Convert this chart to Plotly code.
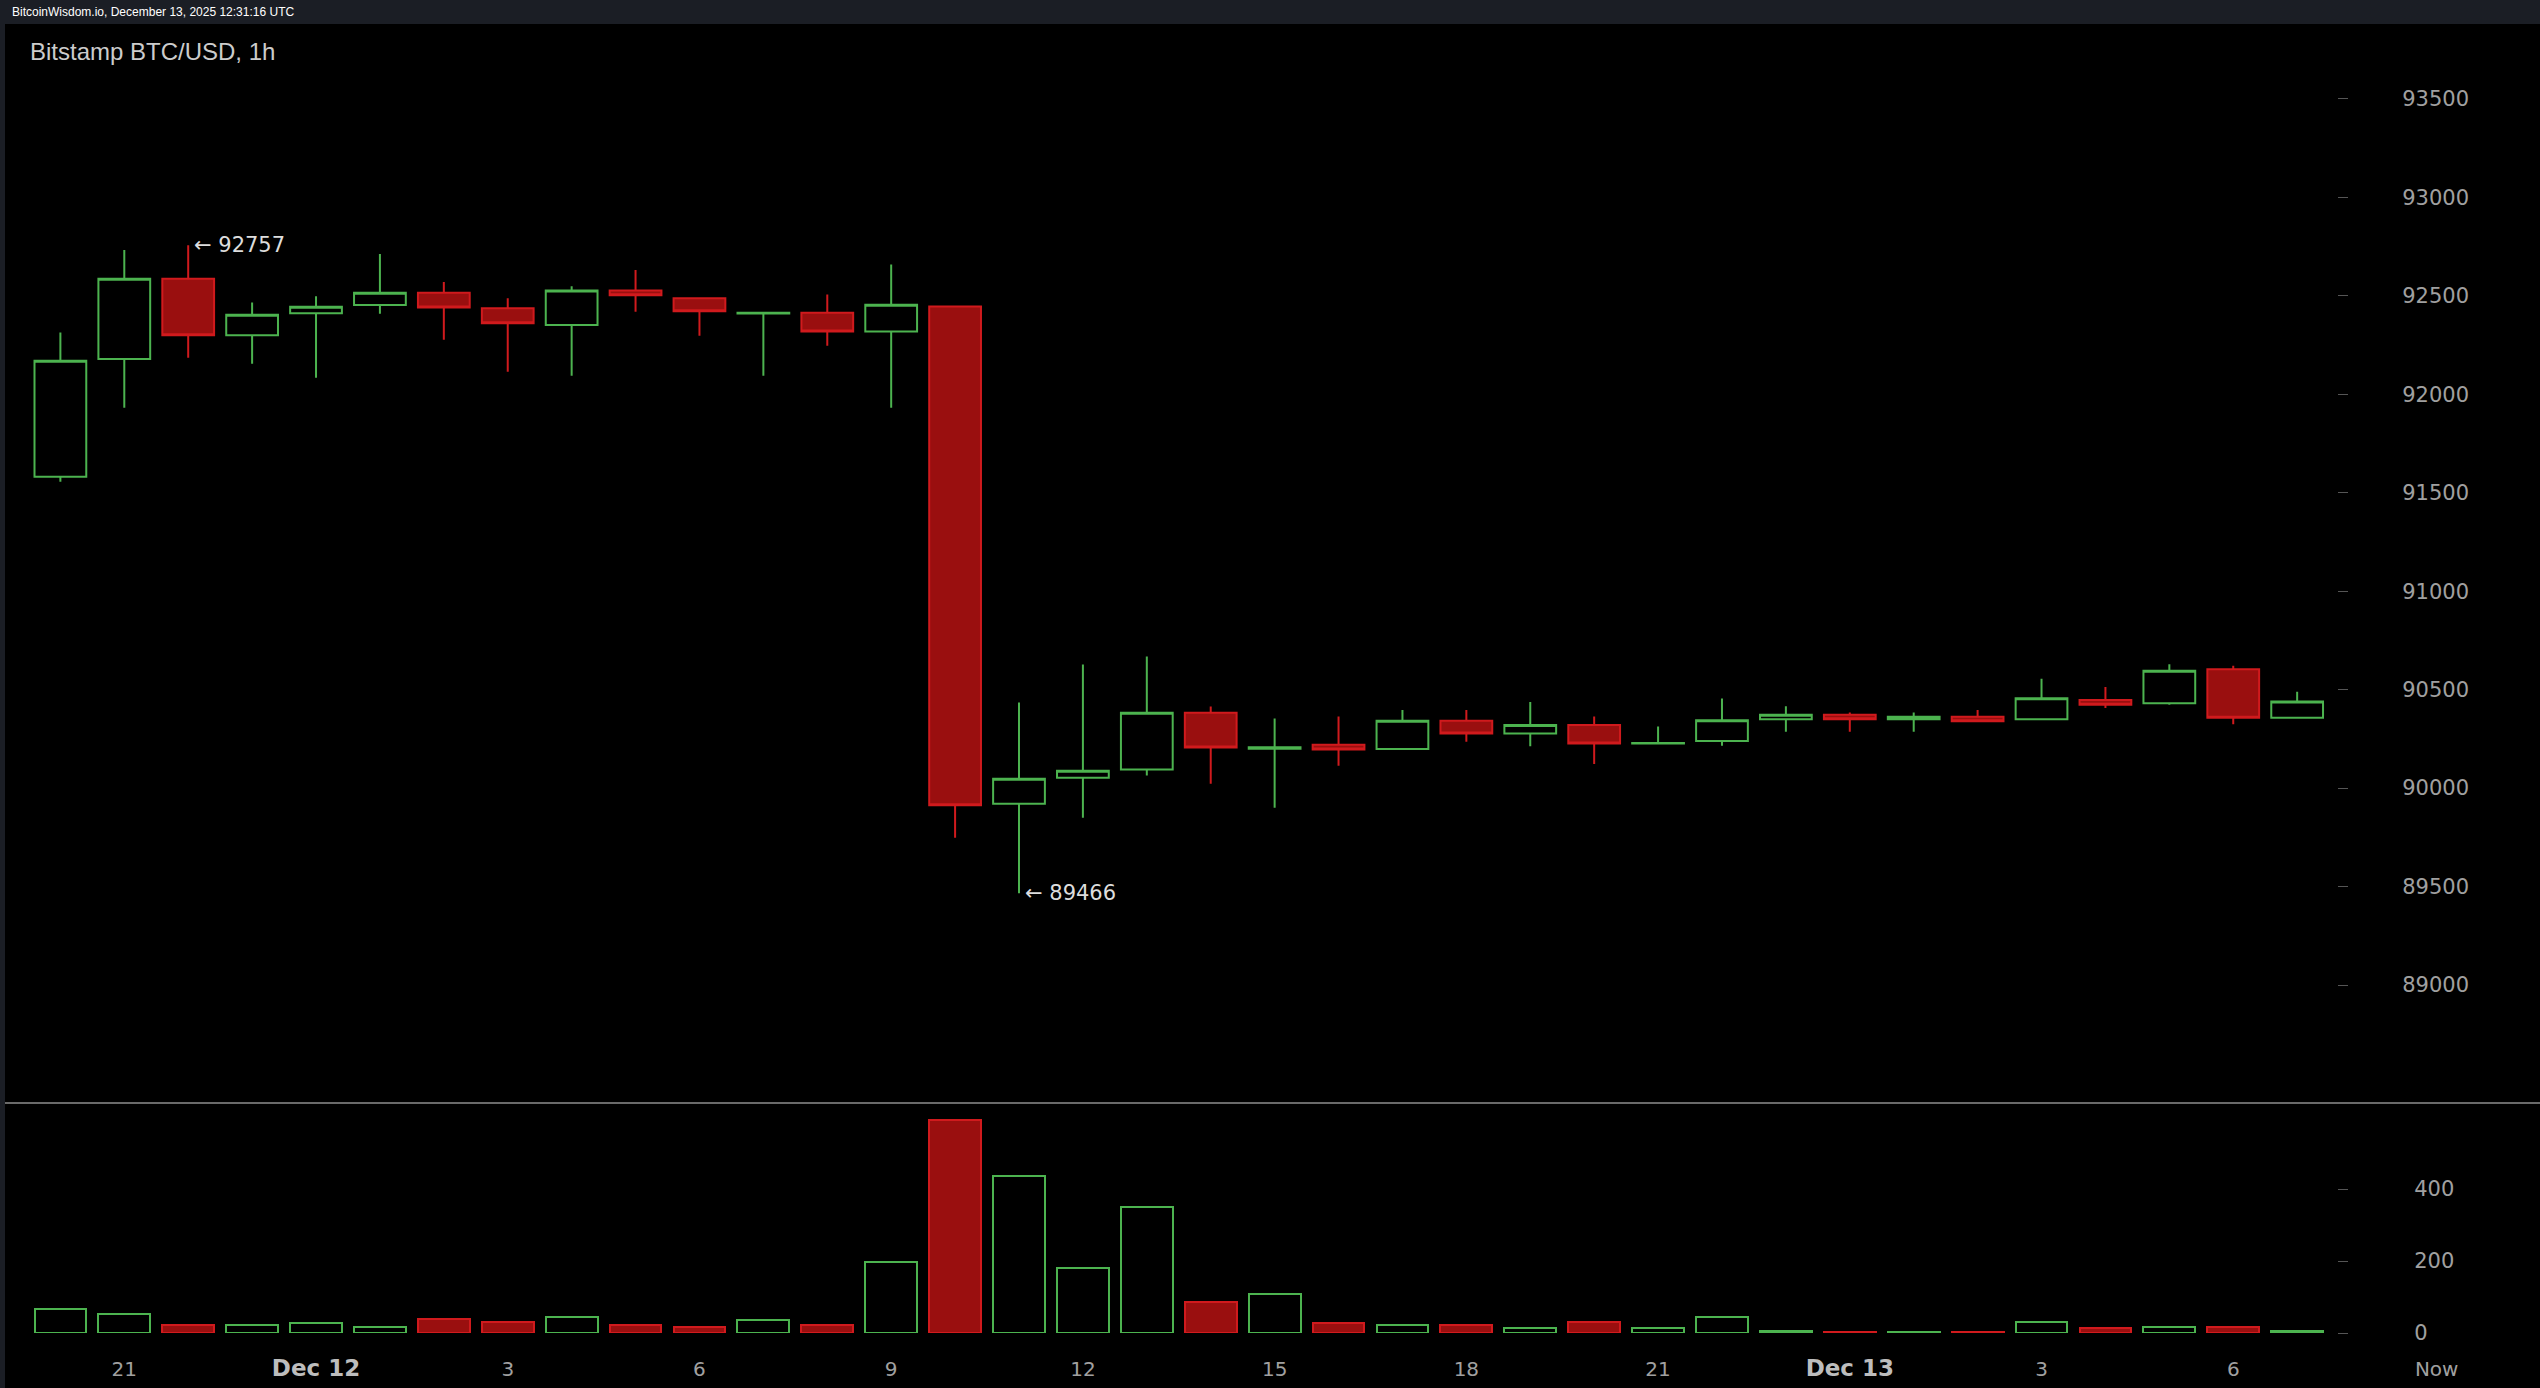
import pandas as pd
import plotly.graph_objects as go

# ---- data ----
start_time = "2025-12-11 20:00"
times = pd.date_range(start_time, periods=36, freq="h")

opens = [91581, 92179, 92587, 92300, 92411, 92453, 92515, 92436, 92351, 92527, 92487, 92410,
         92414, 92319, 92446, 89921, 90053, 90095, 90382, 90200, 90220, 90198, 90342, 90277,
         90321, 90226, 90239, 90350, 90372, 90349, 90362, 90349, 90448, 90431, 90604, 90357]
highs = [92314, 92732, 92757, 92466, 92497, 92712, 92570, 92488, 92548, 92631, 92490, 92414,
         92507, 92659, 92450, 90435, 90628, 90668, 90415, 90354, 90364, 90396, 90396, 90437,
         90364, 90313, 90455, 90416, 90384, 90384, 90396, 90555, 90514, 90629, 90621, 90489]
lows = [91556, 91931, 92185, 92155, 92084, 92409, 92277, 92114, 92094, 92419, 92297, 92094,
        92246, 91931, 89748, 89466, 89849, 90064, 90022, 89900, 90113, 90198, 90235, 90213,
        90123, 90226, 90215, 90286, 90286, 90286, 90340, 90349, 90407, 90423, 90324, 90357]
closes = [92170, 92587, 92299, 92404, 92444, 92515, 92441, 92360, 92527, 92502, 92422, 92414,
          92319, 92455, 89913, 90047, 90088, 90382, 90206, 90208, 90196, 90342, 90277, 90321,
          90227, 90229, 90344, 90372, 90349, 90362, 90340, 90456, 90423, 90596, 90357, 90440]
volumes = [67, 54, 22, 22, 27, 18, 40, 31, 45, 22, 18, 36, 22, 198, 593, 436, 180, 350, 85, 108,
           27, 22, 22, 13, 31, 13, 45, 5, 2, 3, 3, 31, 13, 18, 18, 6]

price_ticks = [89000, 89500, 90000, 90500, 91000, 91500, 92000, 92500, 93000, 93500]
volume_ticks = [0, 200, 400]
x_tick_times = ["2025-12-11 21:00", "2025-12-12 00:00", "2025-12-12 03:00", "2025-12-12 06:00",
                "2025-12-12 09:00", "2025-12-12 12:00", "2025-12-12 15:00", "2025-12-12 18:00",
                "2025-12-12 21:00", "2025-12-13 00:00", "2025-12-13 03:00", "2025-12-13 06:00",
                "2025-12-13 09:11"]
x_tick_labels = ["21", "Dec 12", "3", "6", "9", "12", "15", "18", "21", "Dec 13",
                 "3", "6", "Now"]
high_label = 92757
low_label = 89466
high_idx = 2
low_idx = 15

# ---- styling ----
W, H = 2540, 1388
ML, MR, MT, MB = 5, 0, 24, 55
PH = H - MT - MB
GREEN = "#4cb34f"
RED_LINE = "#d01a1d"
RED_FILL = "#9a0f0f"
vol_split = (1333 - 1103) / PH

up = [c >= o for o, c in zip(opens, closes)]


def fmt_xlabel(t):
    if t.startswith("Dec"):
        return "<span style='font-size:23px;font-weight:bold;fill:#bdbdbd'>" + t + "</span>"
    return t


fig = go.Figure()
fig.add_trace(go.Candlestick(
    x=times, open=opens, high=highs, low=lows, close=closes,
    increasing=dict(line=dict(color=GREEN, width=2), fillcolor="#000000"),
    decreasing=dict(line=dict(color=RED_LINE, width=2), fillcolor=RED_FILL),
    whiskerwidth=0, xaxis="x", yaxis="y", showlegend=False, hoverinfo="skip",
))
fig.add_trace(go.Bar(
    x=times, y=volumes, xaxis="x", yaxis="y2", width=0.81 * 3600 * 1000,
    marker=dict(color=["#000000" if u else RED_FILL for u in up],
                line=dict(color=[GREEN if u else RED_LINE for u in up], width=2)),
    showlegend=False, hoverinfo="skip",
))

axis_font = dict(family="DejaVu Sans", size=21, color="#a0a0a0")
ypos = (2337 - ML) / (W - ML - MR)

fig.update_layout(
    width=W, height=H,
    margin=dict(l=ML, r=MR, t=MT, b=MB, pad=0),
    paper_bgcolor="#1b1e25", plot_bgcolor="#000000",
    boxgap=0.19, boxgroupgap=0, bargap=0,
    xaxis=dict(domain=[0, 1], anchor="y2",
               range=["2025-12-11 19:08:00", "2025-12-13 10:48:00"],
               tickvals=x_tick_times, ticktext=[fmt_xlabel(t) for t in x_tick_labels],
               tickfont=dict(family="DejaVu Sans", size=20, color="#a0a0a0"),
               ticks="", showgrid=False, zeroline=False, showline=False,
               rangeslider=dict(visible=False), ticklabelstandoff=22),
    yaxis=dict(domain=[vol_split, 1], anchor="free", position=ypos, side="right",
               range=[88401, 93880], tickvals=price_ticks,
               ticktext=[str(v) for v in price_ticks],
               ticks="outside", ticklen=10, tickwidth=1, tickcolor="#555555",
               tickfont=axis_font, ticklabelstandoff=50,
               showgrid=False, zeroline=False, showline=False),
    yaxis2=dict(domain=[0, vol_split], anchor="free", position=ypos, side="right",
                range=[0, 639], tickvals=volume_ticks,
                ticktext=[str(v) for v in volume_ticks],
                ticks="outside", ticklen=10, tickwidth=1, tickcolor="#555555",
                tickfont=axis_font, ticklabelstandoff=62,
                showgrid=False, zeroline=False, showline=False),
)

fig.add_shape(type="rect", xref="paper", yref="paper", x0=0, x1=1,
              y0=-MB / PH, y1=1, fillcolor="#000000", line=dict(width=0), layer="below")
fig.add_shape(type="line", xref="paper", yref="paper", x0=0, x1=1,
              y0=vol_split, y1=vol_split, line=dict(color="#6a6a6a", width=2))

fig.add_annotation(text="BitcoinWisdom.io, December 13, 2025 12:31:16 UTC",
                   xref="paper", yref="paper", x=5 / (W - ML), y=1 + 12 / PH,
                   xanchor="left", yanchor="middle", showarrow=False,
                   font=dict(family="Liberation Sans", size=12, color="#ffffff"))
fig.add_annotation(text="Bitstamp BTC/USD, 1h",
                   xref="paper", yref="paper", x=(28 - ML) / (W - ML), y=1 - 28 / PH,
                   xanchor="left", yanchor="middle", showarrow=False,
                   font=dict(family="Liberation Sans", size=24, color="#cccccc"))
fig.add_annotation(text="← " + str(high_label), x=times[high_idx], y=high_label,
                   xref="x", yref="y", xanchor="left", yanchor="middle", xshift=4,
                   showarrow=False, font=dict(family="DejaVu Sans", size=21, color="#dddddd"))
fig.add_annotation(text="← " + str(low_label), x=times[low_idx], y=low_label,
                   xref="x", yref="y", xanchor="left", yanchor="middle", xshift=4,
                   showarrow=False, font=dict(family="DejaVu Sans", size=21, color="#dddddd"))

fig.write_html("out.html", config={"displayModeBar": False},
               post_script="document.body.style.margin='0';")
